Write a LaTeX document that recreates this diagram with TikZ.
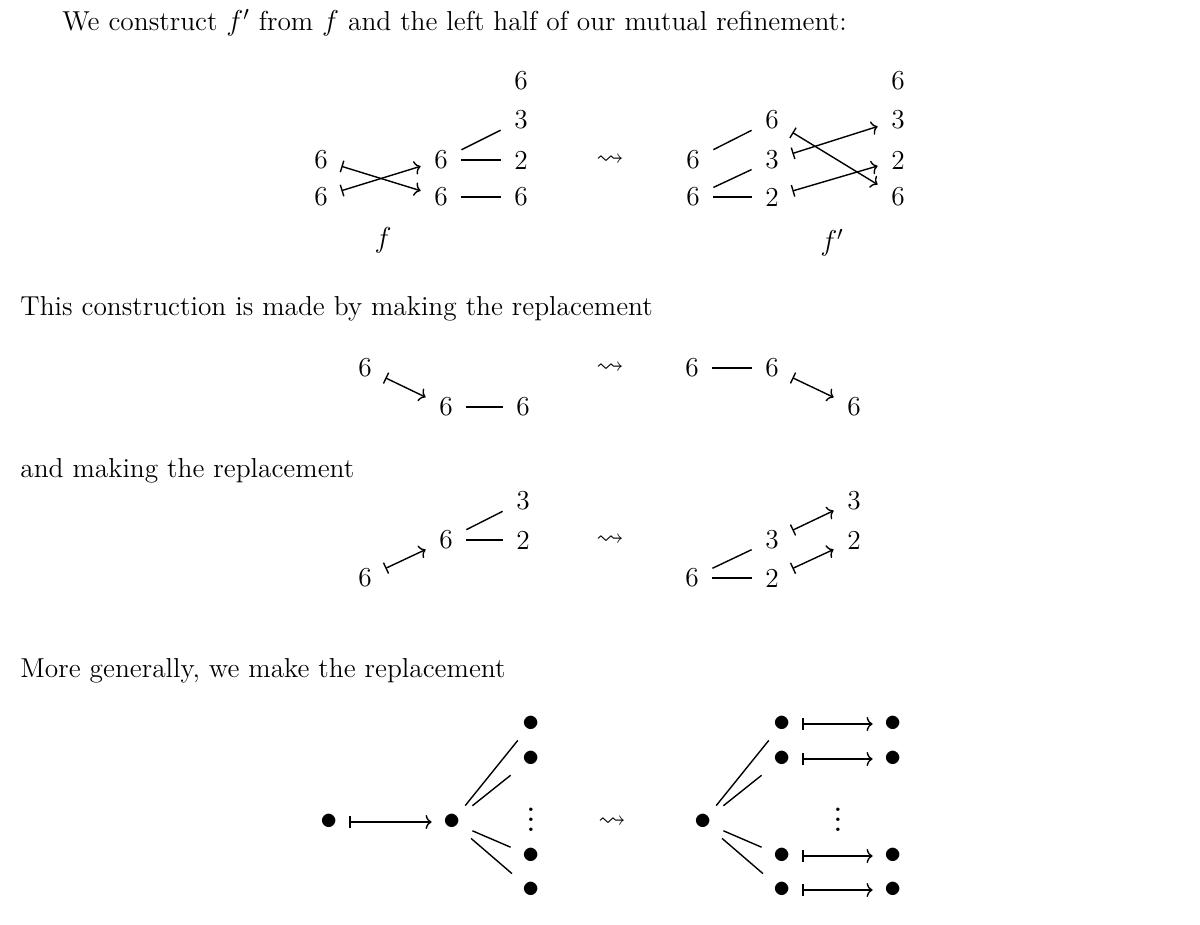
\documentclass[tikz,border=0pt]{standalone}
\usepackage{amssymb}
\usetikzlibrary{arrows.meta}
\begin{document}
\begin{tikzpicture}[x=0.5pt,y=-0.5pt,
  every node/.style={font=\fontsize{13.7}{16}\selectfont},
  num/.style={inner sep=0pt, minimum width=20pt, minimum height=14pt},
  dot/.style={inner sep=0pt, minimum width=20pt, minimum height=16pt, font=\fontsize{17}{19}\selectfont},
  vd/.style={inner sep=0pt},
  txt/.style={anchor=base west, inner sep=0pt},
  ln/.style={line width=0.7pt},
  mapsto/.style={line width=0.7pt, {Bar[width=6pt,line width=0.7pt]}-{To[length=3pt,width=7pt,line width=0.7pt]}},
]
\useasboundingbox (0,0) rectangle (1200,925);

\node[txt] (t1) at (62,31) {We construct $f'$ from $f$ and the left half of our mutual refinement:};

% diagram 1 left
\node[num] (a1) at (321,160) {6};
\node[num] (a2) at (321,197) {6};
\node[num] (b1) at (441,160) {6};
\node[num] (b2) at (441,197) {6};
\node[num] (c1) at (521,81) {6};
\node[num] (c2) at (521,120) {3};
\node[num] (c3) at (521,160) {2};
\node[num] (c4) at (521,197) {6};
\node (sq1) at (610,160) {$\rightsquigarrow$};
\node (f) at (383,240) {$f$};
\draw[mapsto] (a1) -- (b2);
\draw[mapsto] (a2) -- (b1);
\draw[ln] (b1) -- (c2);
\draw[ln] (b1) -- (c3);
\draw[ln] (b2) -- (c4);

% diagram 1 right
\node[num] (d1) at (693,160) {6};
\node[num] (d2) at (693,197) {6};
\node[num] (e1) at (772,120) {6};
\node[num] (e2) at (772,160) {3};
\node[num] (e3) at (772,197) {2};
\node[num] (g1) at (898,81) {6};
\node[num] (g2) at (898,120) {3};
\node[num] (g3) at (898,160) {2};
\node[num] (g4) at (898,197) {6};
\node (fp) at (832,243) {$f'$};
\draw[ln] (d1) -- (e1);
\draw[ln] (d2) -- (e2);
\draw[ln] (d2) -- (e3);
\draw[mapsto] (e1) -- (g4);
\draw[mapsto] (e2) -- (g2);
\draw[mapsto] (e3) -- (g3);

\node[txt] (t2) at (20,316) {This construction is made by making the replacement};

% diagram 2
\node[num] (h1) at (365,368) {6};
\node[num] (h2) at (446,407) {6};
\node[num] (h3) at (523,407) {6};
\node (sq2) at (610,368) {$\rightsquigarrow$};
\node[num] (i1) at (692,368) {6};
\node[num] (i2) at (772,368) {6};
\node[num] (i3) at (854,407) {6};
\draw[mapsto] (h1) -- (h2);
\draw[ln] (h2) -- (h3);
\draw[ln] (i1) -- (i2);
\draw[mapsto] (i2) -- (i3);

\node[txt] (t3) at (20,477) {and making the replacement};

% diagram 3
\node[num] (j1) at (365,578) {6};
\node[num] (j2) at (446,540) {6};
\node[num] (j3) at (523,501) {3};
\node[num] (j4) at (523,540) {2};
\node (sq3) at (610,540) {$\rightsquigarrow$};
\node[num] (k1) at (692,578) {6};
\node[num] (k2) at (772,540) {3};
\node[num] (k3) at (772,578) {2};
\node[num] (k4) at (854,501) {3};
\node[num] (k5) at (854,540) {2};
\draw[mapsto] (j1) -- (j2);
\draw[ln] (j2) -- (j3);
\draw[ln] (j2) -- (j4);
\draw[ln] (k1) -- (k2);
\draw[ln] (k1) -- (k3);
\draw[mapsto] (k2) -- (k4);
\draw[mapsto] (k3) -- (k5);

\node[txt] (t4) at (20,677) {More generally, we make the replacement};

% diagram 4
\node[dot] (p0) at (329,822) {$\bullet$};
\node[dot] (p1) at (452,822) {$\bullet$};
\node[dot] (q1) at (531,724) {$\bullet$};
\node[dot] (q2) at (531,759) {$\bullet$};
\node[dot] (q3) at (531,856) {$\bullet$};
\node[dot] (q4) at (531,890) {$\bullet$};
\node[vd] (qv) at (531,812) {\scalebox{1.3}{$\vdots$}};
\node (sq4) at (612,822) {$\rightsquigarrow$};
\node[dot] (r0) at (703,822) {$\bullet$};
\node[dot] (s1) at (782,724) {$\bullet$};
\node[dot] (s2) at (782,759) {$\bullet$};
\node[dot] (s3) at (782,856) {$\bullet$};
\node[dot] (s4) at (782,890) {$\bullet$};
\node[dot] (u1) at (893,724) {$\bullet$};
\node[dot] (u2) at (893,759) {$\bullet$};
\node[dot] (u3) at (893,856) {$\bullet$};
\node[dot] (u4) at (893,890) {$\bullet$};
\node[vd] (sv) at (838,812) {\scalebox{1.3}{$\vdots$}};
\draw[mapsto] (p0) -- (p1);
\draw[ln] (p1) -- (q1);
\draw[ln] (p1) -- (q2);
\draw[ln] (p1) -- (q3);
\draw[ln] (p1) -- (q4);
\draw[ln] (r0) -- (s1);
\draw[ln] (r0) -- (s2);
\draw[ln] (r0) -- (s3);
\draw[ln] (r0) -- (s4);
\draw[mapsto] (s1) -- (u1);
\draw[mapsto] (s2) -- (u2);
\draw[mapsto] (s3) -- (u3);
\draw[mapsto] (s4) -- (u4);
\end{tikzpicture}
\end{document}
